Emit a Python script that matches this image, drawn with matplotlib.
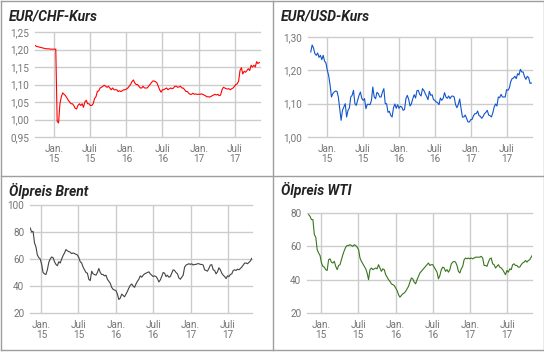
import matplotlib
matplotlib.use("Agg")
import matplotlib.pyplot as plt
from matplotlib.lines import Line2D
from matplotlib.ticker import FuncFormatter
import pandas as pd

plt.rcParams['font.family'] = ['Roboto', 'DejaVu Sans']

W, H = 544, 352

# --- Daten (Wochenwerte, freitags) ---
chf_start = '2014-09-26'
chf_values = [
    1.212,
    1.209, 1.208, 1.207, 1.206, 1.205,
    1.204, 1.203, 1.202, 1.202,
    1.202, 1.201, 1.201, 1.201,
    # 2015
    1.201, 1.201, 0.995, 0.990, 1.045,
    1.065, 1.076, 1.072, 1.068,
    1.062, 1.055, 1.050, 1.045,
    1.045, 1.040, 1.032, 1.030,
    1.040, 1.045, 1.040, 1.045, 1.035,
    1.050, 1.055, 1.045, 1.045,
    1.040, 1.040, 1.045, 1.060, 1.065,
    1.080, 1.082, 1.090, 1.092,
    1.095, 1.098, 1.095, 1.092,
    1.095, 1.090, 1.085, 1.090, 1.085,
    1.085, 1.085, 1.080, 1.082,
    1.080, 1.082, 1.085, 1.085,
    # 2016
    1.087, 1.090, 1.095, 1.100, 1.108,
    1.113, 1.105, 1.100, 1.100,
    1.095, 1.090, 1.090, 1.095,
    1.090, 1.090, 1.090, 1.095, 1.100,
    1.105, 1.110, 1.110, 1.108,
    1.105, 1.095, 1.085, 1.078,
    1.085, 1.085, 1.088, 1.090, 1.085,
    1.088, 1.090, 1.088, 1.090,
    1.095, 1.095, 1.092, 1.093, 1.095,
    1.090, 1.090, 1.085, 1.080,
    1.080, 1.075, 1.072, 1.072,
    1.075, 1.072, 1.073, 1.072, 1.072,
    # 2017
    1.072, 1.073, 1.072, 1.070,
    1.068, 1.065, 1.065, 1.064,
    1.066, 1.068, 1.070, 1.072, 1.070,
    1.072, 1.068, 1.070, 1.085,
    1.092, 1.090, 1.088, 1.087,
    1.088, 1.085, 1.088, 1.090, 1.095,
    1.100, 1.102, 1.110, 1.140,
    1.148, 1.130, 1.138, 1.135,
    1.140, 1.145, 1.140, 1.155, 1.150,
    1.155, 1.150, 1.165, 1.160,
    1.163,
]

usd_start = '2014-10-10'
usd_values = [
    1.255, 1.276, 1.267, 1.250,
    1.245, 1.252, 1.239, 1.245,
    1.232, 1.245, 1.228, 1.222,
    # 2015
    1.200, 1.184, 1.156, 1.120, 1.130,
    1.135, 1.138, 1.137, 1.120,
    1.085, 1.050, 1.080, 1.090,
    1.100, 1.060, 1.080, 1.087,
    1.120, 1.125, 1.140, 1.100, 1.095,
    1.110, 1.125, 1.135, 1.116,
    1.110, 1.115, 1.085, 1.098, 1.098,
    1.097, 1.110, 1.150, 1.120,
    1.115, 1.134, 1.130, 1.120,
    1.120, 1.135, 1.145, 1.100, 1.100,
    1.074, 1.077, 1.065, 1.060,
    1.088, 1.099, 1.086, 1.097,
    # 2016
    1.086, 1.092, 1.090, 1.080, 1.083,
    1.115, 1.125, 1.113, 1.093,
    1.100, 1.115, 1.127, 1.117,
    1.139, 1.140, 1.128, 1.123, 1.145,
    1.140, 1.130, 1.122, 1.112,
    1.137, 1.125, 1.127, 1.112,
    1.110, 1.105, 1.103, 1.097, 1.117,
    1.110, 1.116, 1.133, 1.120,
    1.116, 1.123, 1.115, 1.122, 1.123,
    1.120, 1.097, 1.088, 1.098,
    1.114, 1.085, 1.060, 1.060,
    1.066, 1.056, 1.045, 1.045, 1.052,
    # 2017
    1.053, 1.064, 1.070, 1.070,
    1.078, 1.064, 1.062, 1.056,
    1.062, 1.070, 1.074, 1.080, 1.066,
    1.064, 1.060, 1.072, 1.090,
    1.099, 1.093, 1.120, 1.118,
    1.128, 1.120, 1.120, 1.120, 1.142,
    1.140, 1.147, 1.166, 1.175,
    1.177, 1.182, 1.175, 1.190,
    1.186, 1.203, 1.195, 1.195, 1.181,
    1.173, 1.182, 1.178, 1.161,
    1.162,
]

brent_start = '2014-11-07'
brent_values = [
    83, 80, 80.5, 72,
    69, 63, 61, 60,
    # 2015
    56, 50, 49, 48.5, 52,
    57.5, 60, 61.5, 61,
    58, 56, 55, 58,
    57, 60, 62.5, 64.5,
    67, 66, 65.5, 65, 64,
    64.5, 64, 63.5, 63,
    61, 58, 57, 54, 52,
    50, 49.5, 45, 44,
    51, 49, 48.5, 48,
    50, 53, 50, 48.5, 48.5,
    47.5, 48, 45, 43.5,
    42, 39, 37.5, 37,
    # 2016
    36.5, 34, 30, 31, 34,
    33, 32, 34, 36,
    38.5, 40.5, 41.5, 40,
    39, 41.5, 43.5, 45, 47.5,
    46.5, 48, 49, 49.5,
    50, 50.5, 49, 48,
    47, 47.5, 47, 45.5, 43,
    44.5, 47, 50, 49.5,
    47, 48, 46.5, 47, 49.5,
    52, 51.5, 50, 49,
    46, 45, 46.5, 48,
    54, 55.5, 56, 56.5, 56,
    # 2017
    56.5, 55.5, 56, 56,
    56.5, 56.5, 56, 56,
    55.5, 52, 51.5, 51, 53,
    55.5, 55.8, 52, 51.5,
    49, 50.5, 53.5, 52,
    49.5, 48, 47, 45.5, 47.5,
    47, 48.5, 49, 51.5,
    52, 51.5, 52.5, 52,
    53, 54, 55.5, 57, 57,
    56.5, 57.5, 58.5, 60.5,
]

wti_start = '2014-10-31'
wti_values = [
    79,
    78, 76, 76, 67,
    65.5, 58, 56, 54.5,
    # 2015
    50, 48, 47.5, 46, 45.5,
    52, 52.5, 50.5, 50,
    51, 48, 46, 48.5,
    49, 52, 55, 57.5,
    59.5, 60.5, 60.5, 61, 60.5,
    60, 61, 60.5, 59.5,
    58, 53, 51, 49.5, 48,
    46.5, 44, 40, 46,
    47, 46, 46.5, 47,
    46.5, 49, 47, 45, 46.5,
    46, 43, 41.5, 40,
    39, 37.5, 37, 36.5,
    # 2016
    35, 33.5, 31, 29.5, 30.5,
    31.5, 32, 33, 34.5,
    36, 38.5, 41, 40.5,
    38.5, 37.5, 40, 42, 44,
    45, 46, 47, 48,
    49, 50, 48.5, 49,
    49, 47.5, 46, 44.5, 40.5,
    42.5, 46, 47.5, 47,
    45, 46, 44.5, 46, 49.5,
    50.5, 51, 50.5, 48.5,
    45, 44, 46.5, 48,
    52, 53, 52.5, 53, 52.5,
    # 2017
    53, 52.5, 53, 53.5,
    53.5, 53.5, 53.5, 54,
    53, 48.5, 48.5, 48, 50.5,
    52.5, 53, 49.5, 49,
    47, 48, 49, 47.5,
    47, 46, 44.5, 43, 45.5,
    44.5, 46.5, 46, 49,
    49.5, 48.5, 48.5, 47.5,
    47.5, 49, 50, 50.5, 51.5,
    50.5, 51.5, 52, 53.5,
    55,
]

tick_dates = ['2015-01-01', '2015-07-01', '2016-01-01',
              '2016-07-01', '2017-01-01', '2017-07-01']
tick_labels = ['Jan.\n15', 'Juli\n15', 'Jan.\n16', 'Juli\n16', 'Jan.\n17', 'Juli\n17']

GRID = '#cccccc'
FRAME = '#9e9e9e'
TICK = '#757575'
TITLE_WIDTH_PX = 89  # Breite von "EUR/CHF-Kurs" im Original


def weekly(start, values):
    return pd.date_range(start, periods=len(values), freq='7D')


fig = plt.figure(figsize=(W / 100, H / 100), dpi=100)

# Rahmen der vier Kacheln
for x in (1, 272.5, 543.5):
    fig.add_artist(Line2D([x / W, x / W], [1 - 1 / H, 1 - 349.5 / H],
                          transform=fig.transFigure, color=FRAME, lw=1))
for y in (1, 175.5, 349.5):
    fig.add_artist(Line2D([1 / W, 543.5 / W], [1 - y / H, 1 - y / H],
                          transform=fig.transFigure, color=FRAME, lw=1))

panels = [
    dict(title='EUR/CHF-Kurs', start=chf_start, values=chf_values, color='#ff0000',
         box=(35, 32, 260, 137), yticks=[0.95, 1.00, 1.05, 1.10, 1.15, 1.20, 1.25],
         dec=2, xlim=('2014-09-26', '2017-11-06'), title_xy=(9, 20.7)),
    dict(title='EUR/USD-Kurs', start=usd_start, values=usd_values, color='#1155cc',
         box=(308, 37, 532, 137), yticks=[1.00, 1.10, 1.20, 1.30],
         dec=2, xlim=('2014-09-26', '2017-11-06'), title_xy=(281, 20.7)),
    dict(title='Ölpreis Brent', start=brent_start, values=brent_values, color='#434343',
         box=(30, 205, 252, 313), yticks=[20, 40, 60, 80, 100],
         dec=0, xlim=('2014-11-06', '2017-10-28'), title_xy=(9, 195.7)),
    dict(title='Ölpreis WTI', start=wti_start, values=wti_values, color='#38761d',
         box=(307, 213, 532, 313), yticks=[20, 40, 60, 80],
         dec=0, xlim=('2014-10-23', '2017-10-31'), title_xy=(281, 195.2)),
]

titles = []
for p in panels:
    l, t, r, b = p['box']
    ax = fig.add_axes([l / W, 1 - b / H, (r - l) / W, (b - t) / H])
    ax.set_facecolor('none')
    for s in ax.spines.values():
        s.set_visible(False)

    dates = weekly(p['start'], p['values'])
    ax.plot(dates, p['values'], color=p['color'], lw=0.8, zorder=3)

    ax.set_xlim(pd.Timestamp(p['xlim'][0]), pd.Timestamp(p['xlim'][1]))
    ax.set_ylim(p['yticks'][0], p['yticks'][-1])

    for y in p['yticks']:
        ax.axhline(y, color=GRID, lw=1, clip_on=False, zorder=1)
    xt = [pd.Timestamp(d) for d in tick_dates]
    for x in xt:
        ax.axvline(x, color=GRID, lw=1, zorder=1)

    ax.set_xticks(xt)
    ax.set_xticklabels(tick_labels, linespacing=1.0)
    ax.set_yticks(p['yticks'])
    dec = p['dec']
    ax.yaxis.set_major_formatter(
        FuncFormatter(lambda v, pos, d=dec: f"{v:.{d}f}".replace('.', ',')))
    ax.tick_params(axis='both', length=0, labelsize=7.2, labelcolor=TICK)
    ax.tick_params(axis='x', pad=5)
    ax.tick_params(axis='y', pad=4)

    tx, ty = p['title_xy']
    titles.append(fig.text(tx / W, 1 - ty / H, p['title'], fontsize=9,
                           fontweight='bold', fontstyle='italic', color='#222222',
                           ha='left', va='baseline'))

# Titelgröße an die Breite im Original anpassen
renderer = fig.canvas.get_renderer()
w0 = titles[0].get_window_extent(renderer).width
size = 9 * TITLE_WIDTH_PX / w0
for t in titles:
    t.set_fontsize(size)

fig.savefig('out.png', dpi=100)
